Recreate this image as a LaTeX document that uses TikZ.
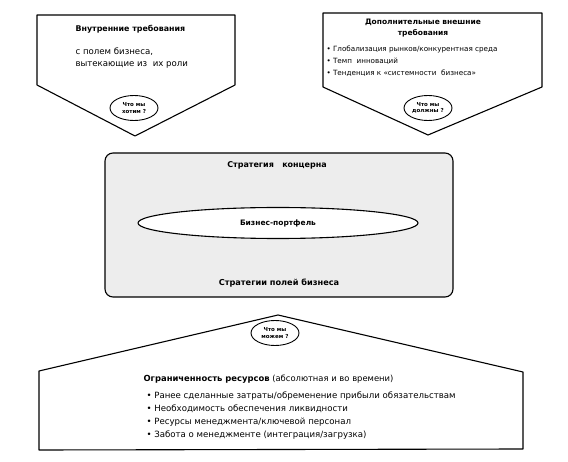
\documentclass[tikz,border=0pt]{standalone}
\usepackage{fontspec}
\setmainfont{DejaVu Sans}
\usetikzlibrary{shapes.geometric}
\begin{document}
\begin{tikzpicture}[x=1pt,y=-1pt, line width=1.1pt, line join=round,
 q/.style={ellipse, draw, fill=white, line width=0.9pt, minimum width=48pt, minimum height=25pt, inner sep=0pt, align=center, font=\fontsize{5.5}{6.5}\selectfont\bfseries},
 hd/.style={font=\fontsize{7.5}{10.5}\selectfont\bfseries, inner sep=0pt, align=center},
 tx/.style={font=\fontsize{7.2}{12}\selectfont, inner sep=0pt, align=left},
 btx/.style={font=\fontsize{8.4}{13}\selectfont, inner sep=0pt, align=left}]
\useasboundingbox (0,0) rectangle (568,462);
% left pentagon
\draw (37,15) -- (235,15) -- (235,85) -- (135,136) -- (37,85) -- cycle;
\node[hd, anchor=west, font=\fontsize{7.9}{10}\selectfont\bfseries] (inTitle) at (75,29) {Внутренние требования};
\node[tx, anchor=north west, font=\fontsize{8.6}{12}\selectfont] (inText) at (75,47) {с полем бизнеса,\\вытекающие из\ \ их роли};
\node[q] (want) at (134,108) {Что мы\\хотим ?};
% right pentagon
\draw (323,13) -- (542,13) -- (542,87) -- (428,135) -- (323,87) -- cycle;
\node[hd] (exTitle) at (423,28) {Дополнительные внешние\\требования};
\node[tx, anchor=west] (exList) at (326,61) {• Глобализация рынков/конкурентная среда\\• Темп\ \ инноваций\\• Тенденция к «системности\ \ бизнеса»};
\node[q] (must) at (428,108) {Что мы\\должны ?};
% middle
\draw[fill=gray!14, rounded corners=8pt] (105,153) rectangle (453,297);
\node[hd, font=\fontsize{8}{10}\selectfont\bfseries] (concern) at (277,165) {Стратегия\ \ \ концерна};
\node[ellipse, draw, fill=white, minimum width=280pt, minimum height=31pt, inner sep=0pt, font=\fontsize{7.5}{9}\selectfont\bfseries] (portfolio) at (278,223) {Бизнес-портфель};
\node[hd, font=\fontsize{8.2}{10}\selectfont\bfseries] (fields) at (279,283) {Стратегии полей бизнеса};
% bottom house
\draw (39,371) -- (278,315) -- (523,372) -- (523,449) -- (39,450) -- cycle;
\node[q] (can) at (275,333) {Что мы\\можем ?};
\node[btx, anchor=west] (resTitle) at (143,379) {\textbf{Ограниченность ресурсов} (абсолютная и во времени)};
\node[btx, anchor=west, font=\fontsize{8.6}{13}\selectfont] (resList) at (146,415.5) {• Ранее сделанные затраты/обременение прибыли обязательствам\\• Необходимость обеспечения ликвидности\\• Ресурсы менеджмента/ключевой персонал\\• Забота о менеджменте (интеграция/загрузка)};
\end{tikzpicture}
\end{document}
